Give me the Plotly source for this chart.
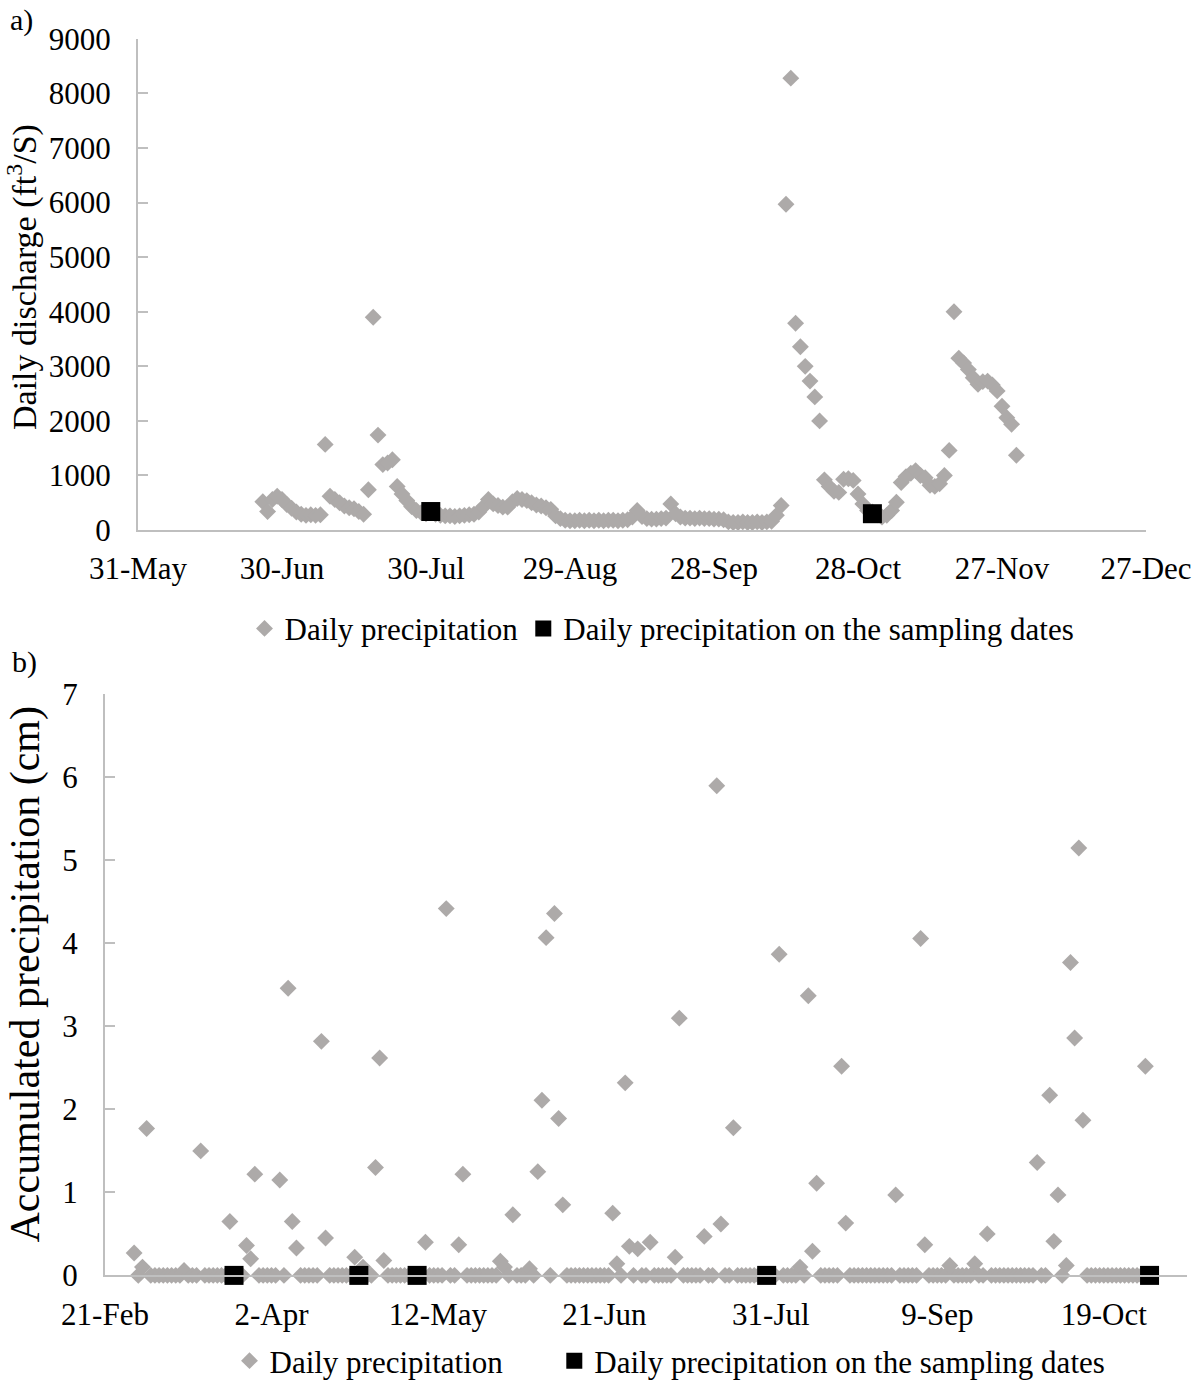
import pandas as pd
import plotly.graph_objects as go

# ---------------- data: panel a) daily discharge (ft3/s) ----------------
discharge_start = "2014-06-26"          # first day of the daily record
discharge = [
    520, 340, 560, 620, 560, 470, 400, 330, 290, 270,
    280, 270, 280, 1570, 620, 560, 500, 440, 410, 390,
    340, 290, 740, 3900, 1740, 1200, 1230, 1290, 800, 660,
    540, 430, 360, 320, 300, 340, 290, 270, 260, 260,
    250, 260, 270, 280, 290, 330, 430, 560, 480, 450,
    420, 420, 520, 580, 560, 540, 500, 460, 440, 410,
    380, 260, 210, 180, 170, 170, 180, 170, 180, 170,
    180, 170, 180, 180, 170, 180, 190, 240, 360, 250,
    210, 200, 200, 210, 220, 480, 300, 240, 220, 220,
    210, 220, 210, 210, 200, 200, 190, 150, 140, 140,
    150, 140, 140, 150, 140, 150, 160, 270, 450, 5970,
    8280, 3790, 3360, 3000, 2730, 2440, 2000, 920, 800, 710,
    690, 930, 940, 910, 660, 480, 360, 330, 280, 240,
    270, 360, 510, 870, 980, 1040, 1090, 1000, 960, 820,
    800, 850, 1000, 1460, 4000, 3150, 3060, 2940, 2790, 2670,
    2720, 2730, 2660, 2550, 2270, 2060, 1940, 1370,
]
discharge_sample_dates = ["2014-07-31", "2014-10-31"]
discharge_sample_values = [340, 300]
a_x_range = ["2014-05-31", "2014-12-27"]

# ---------------- data: panel b) daily precipitation (cm) ----------------
precip_start = "2015-02-28"             # first day of the daily record
precip = [
    0.27, 0, 0.10, 1.77, 0, 0, 0, 0, 0, 0,
    0, 0, 0.06, 0, 0, 0, 1.50, 0, 0, 0,
    0, 0, 0, 0.65, 0, 0, 0, 0.36, 0.20, 1.22,
    0, 0, 0, 0, 0, 1.15, 0, 3.46, 0.65, 0.33,
    0, 0, 0, 0, 0, 2.82, 0.45, 0, 0, 0,
    0, 0, 0, 0.22, 0, 0.10, 0, 0, 1.30, 2.62,
    0.18, 0, 0, 0, 0, 0, 0, 0, 0, 0,
    0.40, 0, 0, 0, 0, 4.42, 0, 0, 0.37, 1.22,
    0, 0, 0, 0, 0, 0, 0, 0, 0.17, 0.10,
    0, 0.73, 0, 0, 0, 0.08, 0, 1.25, 2.11, 4.07,
    0, 4.36, 1.89, 0.85, 0, 0, 0, 0, 0, 0,
    0, 0, 0, 0, 0, 0.75, 0.14, 0, 2.32, 0.35,
    0, 0.32, 0, 0, 0.40, 0, 0, 0, 0, 0,
    0.22, 3.10, 0, 0, 0, 0, 0, 0.47, 0, 0,
    5.90, 0.62, 0, 0, 1.78, 0, 0, 0, 0, 0,
    0, 0, 0, 0, 0, 3.87, 0, 0, 0, 0,
    0.10, 0, 3.37, 0.29, 1.11, 0, 0, 0, 0, 0,
    2.52, 0.63, 0, 0, 0, 0, 0, 0, 0, 0,
    0, 0, 0, 0.97, 0, 0, 0, 0, 0, 4.06,
    0.37, 0, 0, 0, 0, 0, 0.12, 0, 0, 0,
    0, 0, 0.14, 0, 0, 0.50, 0, 0, 0, 0,
    0, 0, 0, 0, 0, 0, 0, 1.36, 0, 0,
    2.17, 0.41, 0.97, 0, 0.12, 3.77, 2.86, 5.15, 1.87, 0,
    0, 0, 0, 0, 0, 0, 0, 0, 0, 0,
    0, 0, 0, 2.52, 0,
]
precip_sample_dates = ["2015-03-24", "2015-04-23", "2015-05-07", "2015-07-30", "2015-10-30"]
precip_sample_values = [0, 0, 0, 0, 0]
b_x_range = ["2015-02-21", "2015-11-08"]

legend_names = ["Daily precipitation", "Daily precipitation on the sampling dates"]

# ---------------- figure ----------------
W, H = 1200, 1388
GREY = "#ADAAA9"
AXIS = "#BFBFBF"
FONT = "Liberation Serif, Times New Roman, serif"
FS = 31
FS_TITLE_A = 34
FS_TITLE_B = 42
NBSP = "\u00a0"

discharge_dates = pd.date_range(discharge_start, periods=len(discharge), freq="D")
precip_dates = pd.date_range(precip_start, periods=len(precip), freq="D")

fig = go.Figure()
fig.add_trace(go.Scatter(x=discharge_dates, y=discharge, mode="markers", name=legend_names[0],
                         marker=dict(symbol="diamond", size=13, color=GREY, line=dict(width=0)),
                         xaxis="x", yaxis="y", legend="legend", cliponaxis=False))
fig.add_trace(go.Scatter(x=pd.to_datetime(discharge_sample_dates), y=discharge_sample_values,
                         mode="markers", name=legend_names[1],
                         marker=dict(symbol="square", size=19, color="black", line=dict(width=0)),
                         xaxis="x", yaxis="y", legend="legend", cliponaxis=False))
fig.add_trace(go.Scatter(x=precip_dates, y=precip, mode="markers",
                         name=legend_names[0] + NBSP * 6,
                         marker=dict(symbol="diamond", size=13, color=GREY, line=dict(width=0)),
                         xaxis="x2", yaxis="y2", legend="legend2", cliponaxis=False))
fig.add_trace(go.Scatter(x=pd.to_datetime(precip_sample_dates), y=precip_sample_values,
                         mode="markers", name=legend_names[1],
                         marker=dict(symbol="square", size=19, color="black", line=dict(width=0)),
                         xaxis="x2", yaxis="y2", legend="legend2", cliponaxis=False))

def px_x(p):
    return p / W

def px_y(p):
    return 1 - p / H

xcommon = dict(type="date", showline=True, linecolor=AXIS, linewidth=2, ticks="",
               showgrid=False, zeroline=False, tickformat="%-d-%b", automargin=False,
               tickfont=dict(family=FONT, size=FS, color="black"), ticklabelstandoff=10)
ycommon = dict(showline=True, linecolor=AXIS, linewidth=2, ticks="inside", ticklen=10,
               tickwidth=2, tickcolor=AXIS, showgrid=False, zeroline=False, automargin=False,
               tickfont=dict(family=FONT, size=FS, color="black"), ticklabelstandoff=19)

fig.update_layout(
    width=W, height=H,
    margin=dict(l=0, r=0, t=0, b=0),
    paper_bgcolor="white", plot_bgcolor="white",
    font=dict(family=FONT, size=FS, color="black"),
    xaxis=dict(domain=[px_x(138), px_x(1146)], anchor="y",
               range=a_x_range, tick0=a_x_range[0], dtick=30 * 86400000, **xcommon),
    yaxis=dict(domain=[px_y(532), px_y(39)], anchor="x", range=[0, 9000], dtick=1000, **ycommon),
    xaxis2=dict(domain=[px_x(105), px_x(1187)], anchor="y2",
                range=b_x_range, tick0=b_x_range[0], dtick=40 * 86400000, **xcommon),
    yaxis2=dict(domain=[px_y(1280), px_y(697)], anchor="x2", range=[0, 7], dtick=1, **ycommon),
    legend=dict(orientation="h", x=px_x(662), xanchor="center", y=px_y(631), yanchor="middle",
                font=dict(family=FONT, size=FS), bgcolor="rgba(0,0,0,0)", itemwidth=30),
    legend2=dict(orientation="h", x=px_x(670), xanchor="center", y=px_y(1366), yanchor="middle",
                 font=dict(family=FONT, size=FS), bgcolor="rgba(0,0,0,0)", itemwidth=30),
    annotations=[
        dict(text="a)", x=px_x(8), y=px_y(20), xref="paper", yref="paper", xanchor="left",
             yanchor="middle", showarrow=False, font=dict(family=FONT, size=30)),
        dict(text="b)", x=px_x(10), y=px_y(664), xref="paper", yref="paper", xanchor="left",
             yanchor="middle", showarrow=False, font=dict(family=FONT, size=30)),
        dict(text="Daily discharge (ft<sup>3</sup>/S)", x=px_x(23), y=px_y(278), xref="paper",
             yref="paper", xanchor="center", yanchor="middle", textangle=-90, showarrow=False,
             font=dict(family=FONT, size=FS_TITLE_A)),
        dict(text="Accumulated precipitation (cm)", x=px_x(25), y=px_y(978), xref="paper",
             yref="paper", xanchor="center", yanchor="middle", textangle=-90, showarrow=False,
             font=dict(family=FONT, size=FS_TITLE_B)),
    ],
)

fig.write_html("out.html")
